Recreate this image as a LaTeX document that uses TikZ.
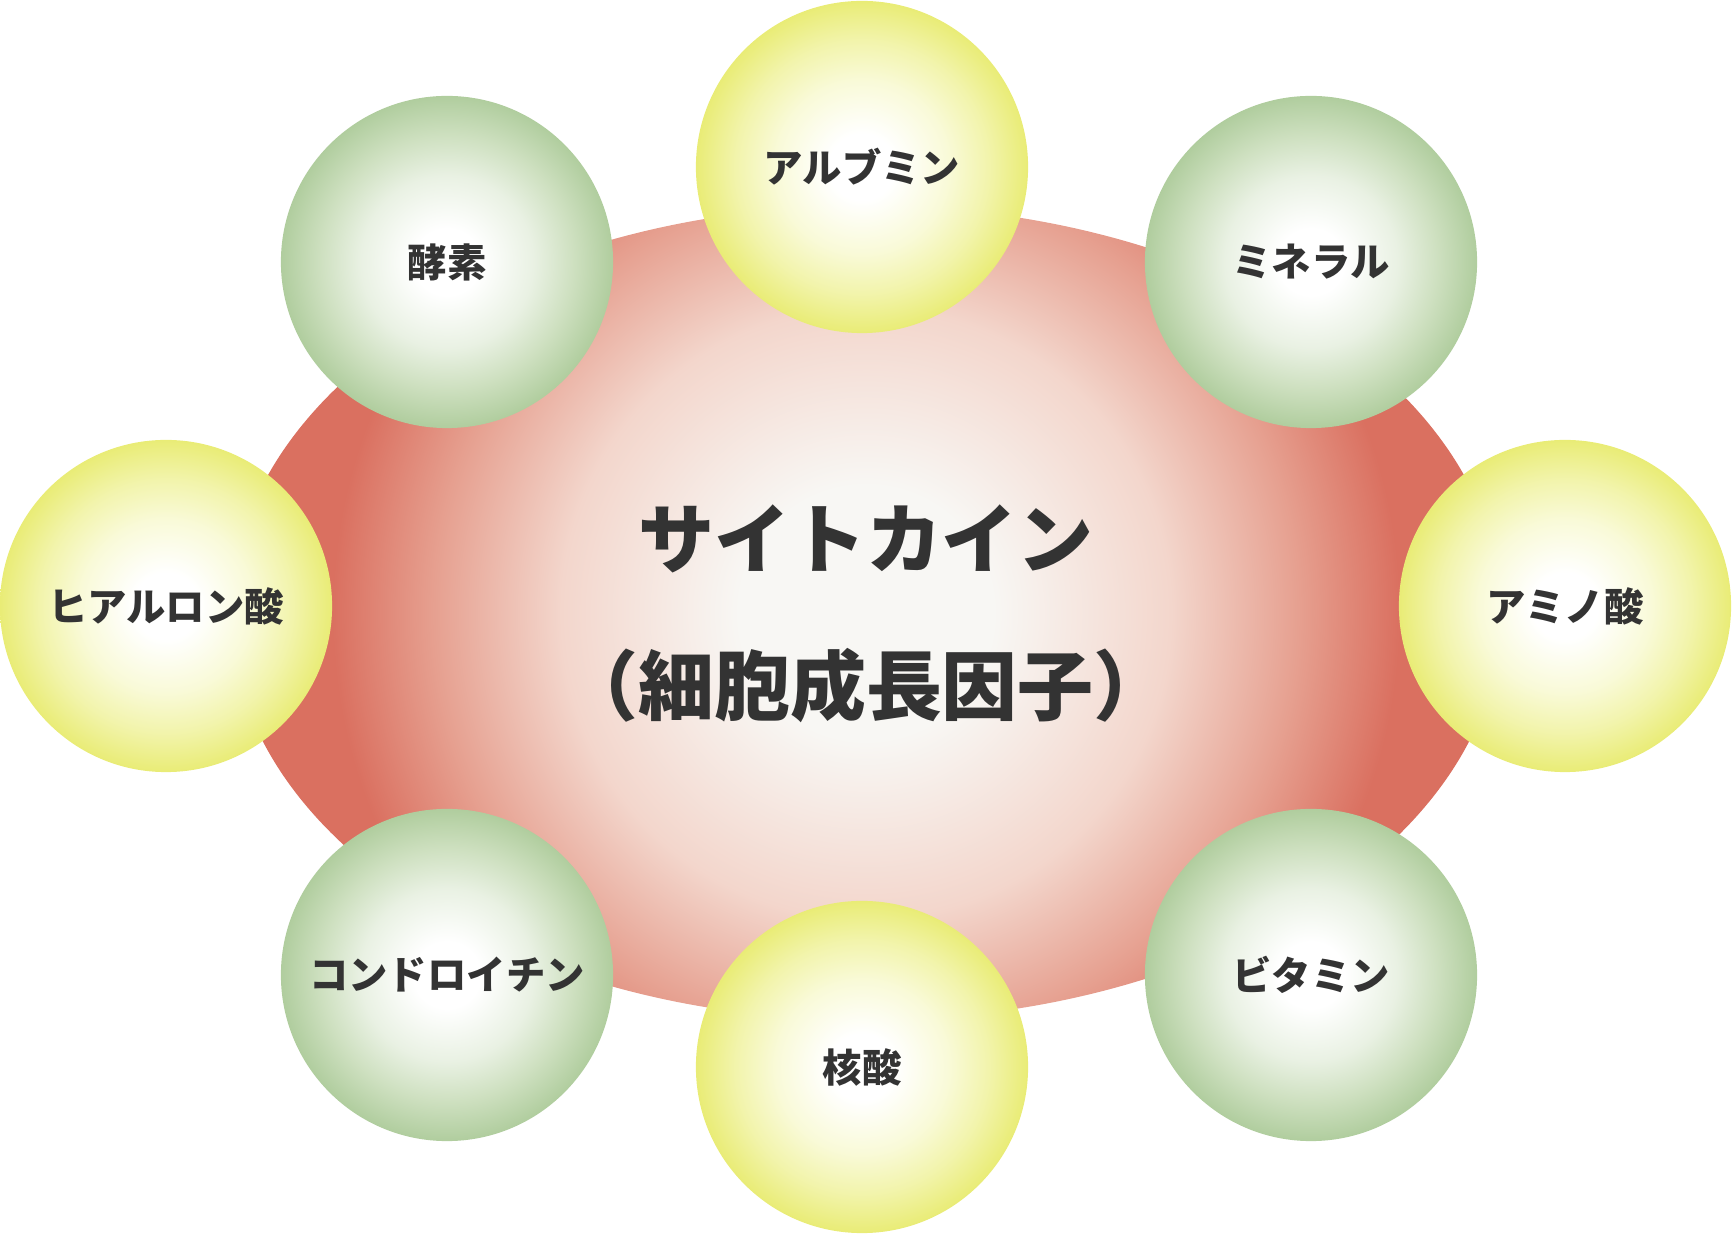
\documentclass[tikz,border=0pt]{standalone}
\usepackage{xcolor}
\usepackage{fontspec}
\usepackage{tikz}
\usetikzlibrary{positioning}
\newfontfamily\jpfont{Noto Sans CJK JP}
\newfontfamily\jphalt{Noto Sans CJK JP}[RawFeature=+halt]
\definecolor{CellRed}{RGB}{218,112,96}
\definecolor{CellRose}{RGB}{230,160,144}
\definecolor{CellBlush}{RGB}{243,214,204}
\definecolor{CellCore}{RGB}{248,247,244}
\definecolor{BallYellow}{RGB}{233,236,118}
\definecolor{BallYellowMid}{RGB}{242,244,172}
\definecolor{BallYellowPale}{RGB}{249,250,216}
\definecolor{BallGreen}{RGB}{176,205,158}
\definecolor{BallGreenMid}{RGB}{206,224,192}
\definecolor{BallGreenPale}{RGB}{233,241,227}
\definecolor{LabelInk}{RGB}{51,51,51}
\pgfdeclareradialshading{cellglow}{\pgfpoint{0bp}{0bp}}{color(0bp)=(CellCore); color(5bp)=(CellCore); color(12bp)=(CellBlush); color(17bp)=(CellRose); color(21bp)=(CellRed); color(25bp)=(CellRed); color(50bp)=(CellRed)}
\pgfdeclareradialshading{yellowball}{\pgfpoint{0bp}{0bp}}{color(0bp)=(white); color(5bp)=(white); color(13bp)=(BallYellowPale); color(19bp)=(BallYellowMid); color(25bp)=(BallYellow); color(50bp)=(BallYellow)}
\pgfdeclareradialshading{greenball}{\pgfpoint{0bp}{0bp}}{color(0bp)=(white); color(5bp)=(white); color(13bp)=(BallGreenPale); color(19bp)=(BallGreenMid); color(25bp)=(BallGreen); color(50bp)=(BallGreen)}

\begin{document}
\begin{tikzpicture}[
  x=0.01cm, y=-0.01cm,
  bubble/.style={circle, minimum size=3.32cm, inner sep=0pt, shade,
               text=LabelInk, font=\jpfont\bfseries\fontsize{11.2pt}{13pt}\selectfont},
  yellowbubble/.style={bubble, shading=yellowball},
  greenbubble/.style={bubble, shading=greenball},
  hub/.style={align=center, text=LabelInk,
               font=\jpfont\bfseries\fontsize{21.6pt}{41.8pt}\selectfont}
]
\useasboundingbox (0,0) rectangle (1732,1234);
% central cell
\begin{scope}
  \clip (866,613) ellipse [x radius=6.35cm, y radius=4.07cm];
  \shade[shading=cellglow] (866,613) circle [radius=6.35cm];
\end{scope}
\node[hub] (cytokine) at (866,614) {サイトカイン\\{\jphalt\bfseries （細胞成長因子）}};
% surrounding factors
\node[yellowbubble] (albumin) at (862,167) {アルブミン};
\node[greenbubble] (enzyme) at (447,262) {酵素};
\node[greenbubble] (mineral) at (1311,262) {ミネラル};
\node[yellowbubble] (hyaluronic) at (166,606) {ヒアルロン酸};
\node[yellowbubble] (amino) at (1565,606) {アミノ酸};
\node[greenbubble] (chondroitin) at (447,975) {コンドロイチン};
\node[greenbubble] (vitamin) at (1311,975) {ビタミン};
\node[yellowbubble] (nucleic) at (862,1067) {核酸};
\end{tikzpicture}
\end{document}
